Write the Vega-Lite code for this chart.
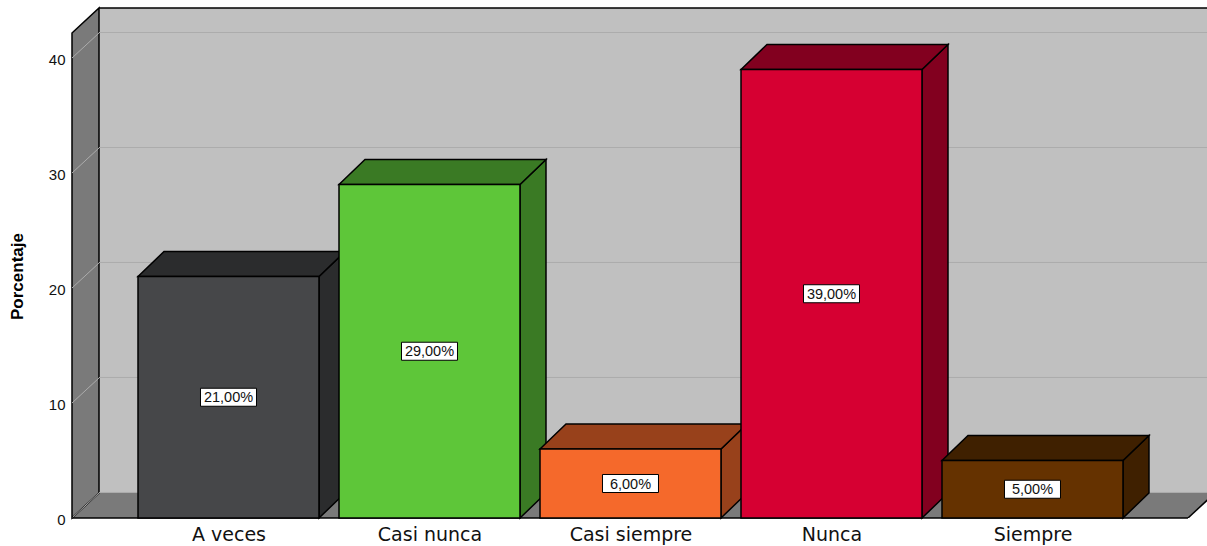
{
  "$schema": "https://vega.github.io/schema/vega-lite/v6.json",
  "width": 1135,
  "height": 510,
  "autosize": {"type": "none"},
  "padding": {"left": 72, "top": 8, "right": 0, "bottom": 28},
  "background": "white",
  "config": {"view": {"stroke": null}},
  "resolve": {"axis": {"x": "independent", "y": "independent"}},
  "params": [
    {"name": "xmin", "value": -0.7786},
    {"name": "xmax", "value": 4.8682},
    {"name": "xsuelo", "value": 4.7736},
    {"name": "ytecho", "value": 44.348},
    {"name": "hw", "value": 0.4502},
    {"name": "d", "value": 0.1294},
    {"name": "dw", "value": 0.1343},
    {"name": "dy", "value": 2.174},
    {"name": "bw", "value": 0.1393},
    {"name": "bh", "value": 0.783}
  ],
  "datasets": {
    "barras": [
      {"categoria": "A veces", "valor": 21},
      {"categoria": "Casi nunca", "valor": 29},
      {"categoria": "Casi siempre", "valor": 6},
      {"categoria": "Nunca", "valor": 39},
      {"categoria": "Siempre", "valor": 5}
    ],
    "marcas": [
      {"marca": 0},
      {"marca": 10},
      {"marca": 20},
      {"marca": 30},
      {"marca": 40}
    ],
    "marco": [{"parte": "caja"}]
  },
  "layer": [
    {
      "data": {"name": "marco"},
      "transform": [
        {"calculate": "xmin+dw", "as": "a"},
        {"calculate": "xmax", "as": "b"},
        {"calculate": "dy", "as": "c"},
        {"calculate": "ytecho", "as": "e"}
      ],
      "mark": {"type": "rect", "fill": "#c0c0c0", "strokeWidth": 0},
      "encoding": {
        "x": {
          "field": "a",
          "type": "quantitative",
          "scale": {"domain": [-0.7786, 4.8682], "nice": false, "zero": false},
          "axis": {
            "values": [0, 1, 2, 3, 4],
            "title": null,
            "grid": false,
            "domain": false,
            "ticks": false,
            "labelFont": "DejaVu Sans",
            "labelFontSize": 19,
            "labelColor": "#111111",
            "labelPadding": 7,
            "labelExpr": "['A veces','Casi nunca','Casi siempre','Nunca','Siempre'][datum.value]"
          }
        },
        "x2": {"field": "b"},
        "y": {
          "field": "c",
          "type": "quantitative",
          "scale": {"domain": [0, 44.348], "nice": false, "zero": false},
          "axis": {
            "values": [0, 10, 20, 30, 40],
            "title": "Porcentaje",
            "grid": false,
            "domain": false,
            "ticks": false,
            "labelFont": "Liberation Sans",
            "labelFontSize": 15,
            "labelColor": "#111111",
            "labelPadding": 7,
            "labelOffset": 1,
            "titleFont": "Liberation Sans",
            "titleFontWeight": "bold",
            "titleFontSize": 17,
            "titleColor": "#000000",
            "titleAngle": -90,
            "titleX": -55,
            "titleY": 268,
            "titleAlign": "center",
            "titleBaseline": "middle"
          }
        },
        "y2": {"field": "e"}
      }
    },
    {
      "data": {"name": "marco"},
      "transform": [
        {"calculate": "[0,1,2,3]", "as": "t"},
        {"flatten": ["t"]},
        {"calculate": "[xmin, xmin+dw, xsuelo, xsuelo+dw][datum.t]", "as": "px"},
        {"calculate": "[0, dy, dy, dy][datum.t]", "as": "py"},
        {"calculate": "[0, 0, 0, dy][datum.t]", "as": "py2"}
      ],
      "mark": {"type": "area", "fill": "#7a7a7a", "clip": true},
      "encoding": {
        "x": {"field": "px", "type": "quantitative", "axis": null},
        "y": {"field": "py", "type": "quantitative", "axis": null, "stack": null},
        "y2": {"field": "py2"}
      }
    },
    {
      "data": {"name": "marco"},
      "transform": [
        {"calculate": "[0,1]", "as": "t"},
        {"flatten": ["t"]},
        {"calculate": "[xmin, xmin+dw][datum.t]", "as": "px"},
        {"calculate": "[ytecho-dy, ytecho][datum.t]", "as": "py"},
        {"calculate": "[0, dy][datum.t]", "as": "py2"}
      ],
      "mark": {"type": "area", "fill": "#7a7a7a", "stroke": "#000000", "strokeWidth": 1.5},
      "encoding": {
        "x": {"field": "px", "type": "quantitative", "axis": null},
        "y": {"field": "py", "type": "quantitative", "axis": null, "stack": null},
        "y2": {"field": "py2"}
      }
    },
    {
      "data": {"name": "marcas"},
      "transform": [
        {"calculate": "xmin+dw", "as": "a"},
        {"calculate": "xmax", "as": "b"},
        {"calculate": "datum.marca+dy+0.0435", "as": "c"}
      ],
      "mark": {"type": "rule", "stroke": "#acacac", "strokeWidth": 1},
      "encoding": {
        "x": {"field": "a", "type": "quantitative", "axis": null},
        "x2": {"field": "b"},
        "y": {"field": "c", "type": "quantitative", "axis": null}
      }
    },
    {
      "data": {"name": "marcas"},
      "transform": [
        {"calculate": "xmin", "as": "a"},
        {"calculate": "xmin+dw", "as": "b"},
        {"calculate": "datum.marca+dy", "as": "c"}
      ],
      "mark": {"type": "rule", "stroke": "#acacac", "strokeWidth": 1},
      "encoding": {
        "x": {"field": "a", "type": "quantitative", "axis": null},
        "x2": {"field": "b"},
        "y": {"field": "marca", "type": "quantitative", "axis": null},
        "y2": {"field": "c"}
      }
    },
    {
      "data": {"name": "marco"},
      "transform": [
        {"calculate": "xmin+dw", "as": "a"},
        {"calculate": "xmax", "as": "b"},
        {"calculate": "ytecho", "as": "c"}
      ],
      "mark": {"type": "rule", "stroke": "#000000", "strokeWidth": 1.5},
      "encoding": {
        "x": {"field": "a", "type": "quantitative", "axis": null},
        "x2": {"field": "b"},
        "y": {"field": "c", "type": "quantitative", "axis": null}
      }
    },
    {
      "data": {"name": "marco"},
      "transform": [
        {"calculate": "xmin", "as": "a"},
        {"calculate": "xsuelo", "as": "b"},
        {"calculate": "0", "as": "c"}
      ],
      "mark": {"type": "rule", "stroke": "#000000", "strokeWidth": 1.5},
      "encoding": {
        "x": {"field": "a", "type": "quantitative", "axis": null},
        "x2": {"field": "b"},
        "y": {"field": "c", "type": "quantitative", "axis": null}
      }
    },
    {
      "data": {"name": "marco"},
      "transform": [
        {"calculate": "xsuelo", "as": "a"},
        {"calculate": "xsuelo+dw", "as": "b"},
        {"calculate": "0", "as": "c"},
        {"calculate": "dy", "as": "e"}
      ],
      "mark": {"type": "rule", "stroke": "#000000", "strokeWidth": 1.5, "clip": true},
      "encoding": {
        "x": {"field": "a", "type": "quantitative", "axis": null},
        "x2": {"field": "b"},
        "y": {"field": "c", "type": "quantitative", "axis": null},
        "y2": {"field": "e"}
      }
    },
    {
      "data": {"name": "barras"},
      "transform": [
        {"window": [{"op": "row_number", "as": "n"}]},
        {"calculate": "datum.n-1", "as": "i"},
        {"calculate": "datum.categoria+' sombra'", "as": "cara"},
        {"calculate": "[0,1]", "as": "t"},
        {"flatten": ["t"]},
        {"calculate": "[datum.i+hw, datum.i+hw+d][datum.t]", "as": "px"},
        {"calculate": "[datum.valor, datum.valor+dy][datum.t]", "as": "py"},
        {"calculate": "[0, dy][datum.t]", "as": "py2"}
      ],
      "mark": {"type": "area", "stroke": "#000000", "strokeWidth": 1.5},
      "encoding": {
        "x": {"field": "px", "type": "quantitative", "axis": null},
        "y": {"field": "py", "type": "quantitative", "axis": null, "stack": null},
        "y2": {"field": "py2"},
        "detail": {"field": "categoria"},
        "fill": {
          "field": "cara",
          "type": "nominal",
          "legend": null,
          "scale": {
            "domain": ["A veces sombra", "Casi nunca sombra", "Casi siempre sombra", "Nunca sombra", "Siempre sombra", "A veces", "Casi nunca", "Casi siempre", "Nunca", "Siempre"],
            "range": ["#2b2c2d", "#3a7a24", "#98411b", "#82001f", "#3f2000", "#464749", "#5ec639", "#f5692b", "#d60032", "#653200"]
          }
        }
      }
    },
    {
      "data": {"name": "barras"},
      "transform": [
        {"window": [{"op": "row_number", "as": "n"}]},
        {"calculate": "datum.n-1", "as": "i"},
        {"calculate": "datum.categoria+' sombra'", "as": "cara"},
        {"calculate": "[0,1,2,3]", "as": "t"},
        {"flatten": ["t"]},
        {"calculate": "[datum.i-hw, datum.i-hw+d, datum.i+hw, datum.i+hw+d][datum.t]", "as": "px"},
        {"calculate": "[datum.valor, datum.valor+dy, datum.valor+dy, datum.valor+dy][datum.t]", "as": "py"},
        {"calculate": "[datum.valor, datum.valor, datum.valor, datum.valor+dy][datum.t]", "as": "py2"}
      ],
      "mark": {"type": "area", "stroke": "#000000", "strokeWidth": 1.5},
      "encoding": {
        "x": {"field": "px", "type": "quantitative", "axis": null},
        "y": {"field": "py", "type": "quantitative", "axis": null, "stack": null},
        "y2": {"field": "py2"},
        "detail": {"field": "categoria"},
        "fill": {"field": "cara", "type": "nominal", "legend": null}
      }
    },
    {
      "data": {"name": "barras"},
      "transform": [
        {"window": [{"op": "row_number", "as": "n"}]},
        {"calculate": "datum.n-1-hw", "as": "a"},
        {"calculate": "datum.n-1+hw", "as": "b"},
        {"calculate": "datum.categoria", "as": "cara"},
        {"calculate": "0", "as": "base"}
      ],
      "mark": {"type": "rect", "stroke": "#000000", "strokeWidth": 1.5},
      "encoding": {
        "x": {"field": "a", "type": "quantitative", "axis": null},
        "x2": {"field": "b"},
        "y": {"field": "valor", "type": "quantitative", "axis": null},
        "y2": {"field": "base"},
        "fill": {"field": "cara", "type": "nominal", "legend": null}
      }
    },
    {
      "data": {"name": "barras"},
      "transform": [
        {"window": [{"op": "row_number", "as": "n"}]},
        {"calculate": "datum.n-1-bw", "as": "a"},
        {"calculate": "datum.n-1+bw", "as": "b"},
        {"calculate": "datum.valor/2-bh", "as": "c"},
        {"calculate": "datum.valor/2+bh", "as": "e"}
      ],
      "mark": {"type": "rect", "fill": "#ffffff", "stroke": "#000000", "strokeWidth": 1},
      "encoding": {
        "x": {"field": "a", "type": "quantitative", "axis": null},
        "x2": {"field": "b"},
        "y": {"field": "c", "type": "quantitative", "axis": null},
        "y2": {"field": "e"}
      }
    },
    {
      "data": {"name": "barras"},
      "transform": [
        {"window": [{"op": "row_number", "as": "n"}]},
        {"calculate": "datum.n-1", "as": "i"},
        {"calculate": "datum.valor/2", "as": "medio"},
        {"calculate": "replace(format(datum.valor, '.2f'), '.', ',')+'%'", "as": "etiqueta"}
      ],
      "mark": {"type": "text", "font": "Liberation Sans", "fontSize": 14.5, "fill": "#111111", "align": "center", "baseline": "middle", "dy": 1},
      "encoding": {
        "x": {"field": "i", "type": "quantitative", "axis": null},
        "y": {"field": "medio", "type": "quantitative", "axis": null},
        "text": {"field": "etiqueta"}
      }
    }
  ]
}
